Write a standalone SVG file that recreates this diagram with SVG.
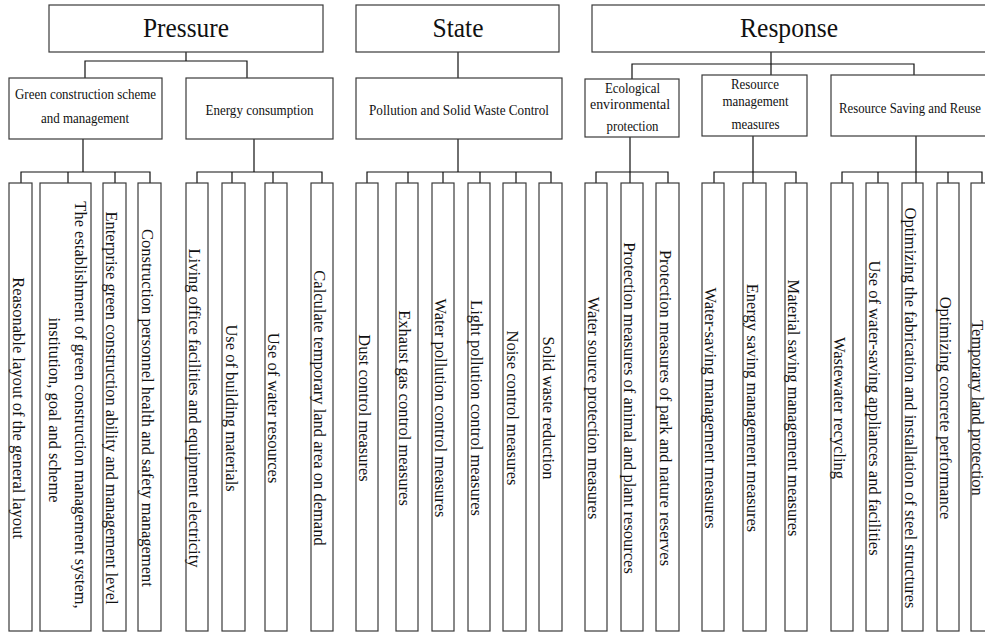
<svg xmlns="http://www.w3.org/2000/svg" width="985" height="633" viewBox="0 0 985 633">
<style>
rect{fill:#fff;stroke:#3a3a3a;stroke-width:1.2}
.c path{fill:none;stroke:#111;stroke-width:1.2}
text{font-family:"Liberation Serif","Times New Roman",serif;fill:#111}
.h{font-size:28px;text-anchor:middle}
.m{font-size:14.5px;text-anchor:middle}
.l{font-size:16.5px;text-anchor:middle}
</style>
<rect x="0" y="0" width="985" height="633" style="stroke:none"/>
<g class="c">
<path d="M186,52V61M85,78V61H247V78"/>
<path d="M83,139V172M21,183V172H150V183M68,172V183M115,172V183"/>
<path d="M254,139V172M197,183V172H322V183M232,172V183M273,172V183"/>
<path d="M458,52V78M458,139V172M367,183V172H551V183M408,172V183M443,172V183M480,172V183M516,172V183"/>
<path d="M771,52V75M632,79V64H914V75"/>
<path d="M630,137V183M596,183V172H668V183"/>
<path d="M753,136V183M714,183V172H796V183"/>
<path d="M916,136V183M842,183V172H982V183M878,172V183M948,172V183"/>
</g>
<g id="pressure"><rect x="49" y="5" width="274" height="47"/><text class="h" x="186" y="37" textLength="86" lengthAdjust="spacingAndGlyphs">Pressure</text></g>
<g id="state"><rect x="356" y="5" width="203" height="47"/><text class="h" x="458" y="37" textLength="51" lengthAdjust="spacingAndGlyphs">State</text></g>
<g id="response"><rect x="592" y="5" width="400" height="47"/><text class="h" x="789" y="37" textLength="98" lengthAdjust="spacingAndGlyphs">Response</text></g>

<g id="green"><rect x="9" y="78" width="153" height="61"/><text class="m" x="85.5" y="99" textLength="141" lengthAdjust="spacingAndGlyphs">Green construction scheme</text><text class="m" x="85" y="123" textLength="88" lengthAdjust="spacingAndGlyphs">and management</text></g>
<g id="energy"><rect x="186" y="78" width="147" height="61"/><text class="m" x="259.5" y="115" textLength="108" lengthAdjust="spacingAndGlyphs">Energy consumption</text></g>
<g id="pollution"><rect x="356" y="78" width="206" height="61"/><text class="m" x="459" y="115" textLength="180" lengthAdjust="spacingAndGlyphs">Pollution and Solid Waste Control</text></g>
<g id="eco"><rect x="585" y="79" width="94" height="58"/><text class="m" x="632.5" y="93" textLength="55" lengthAdjust="spacingAndGlyphs">Ecological</text><text class="m" x="630" y="109" textLength="80" lengthAdjust="spacingAndGlyphs">environmental</text><text class="m" x="632.5" y="131" textLength="52" lengthAdjust="spacingAndGlyphs">protection</text></g>
<g id="resmgmt"><rect x="702" y="75" width="105" height="61"/><text class="m" x="755" y="89" textLength="48" lengthAdjust="spacingAndGlyphs">Resource</text><text class="m" x="755.5" y="106" textLength="66" lengthAdjust="spacingAndGlyphs">management</text><text class="m" x="755.5" y="129" textLength="48" lengthAdjust="spacingAndGlyphs">measures</text></g>
<g id="ressave"><rect x="831" y="75" width="166" height="61"/><text class="m" x="910" y="113" textLength="142" lengthAdjust="spacingAndGlyphs">Resource Saving and Reuse</text></g>

<g id="l1"><rect x="9" y="183" width="23" height="448"/><text class="l" transform="translate(20.5,408) rotate(90)" y="8">Reasonable layout of the general layout</text></g>
<g id="l2"><rect x="40" y="183" width="51" height="448"/><text class="l" transform="translate(65.5,408) rotate(90)"><tspan x="-3" y="-9.5">The establishment of green construction management system,</tspan><tspan x="2" y="17">institution, goal and scheme</tspan></text></g>
<g id="l3"><rect x="103" y="183" width="23" height="448"/><text class="l" transform="translate(114.5,408) rotate(90)" y="8.5">Enterprise green construction ability and management level</text></g>
<g id="l4"><rect x="138" y="183" width="23" height="448"/><text class="l" transform="translate(149.5,408) rotate(90)" y="8">Construction personnel health and safety management</text></g>
<g id="l5"><rect x="186" y="183" width="22" height="448"/><text class="l" transform="translate(197,408) rotate(90)" y="8">Living office facilities and equipment electricity</text></g>
<g id="l6"><rect x="222" y="183" width="23" height="448"/><text class="l" transform="translate(233.5,408) rotate(90)" y="8">Use of building materials</text></g>
<g id="l7"><rect x="265" y="183" width="22" height="448"/><text class="l" transform="translate(276,408) rotate(90)" y="8">Use of water resources</text></g>
<g id="l8"><rect x="311" y="183" width="22" height="448"/><text class="l" transform="translate(322,408) rotate(90)" y="8">Calculate temporary land area on demand</text></g>
<g id="l9"><rect x="356" y="183" width="22" height="448"/><text class="l" transform="translate(367,408) rotate(90)" y="8">Dust control measures</text></g>
<g id="l10"><rect x="396" y="183" width="22" height="448"/><text class="l" transform="translate(407,408) rotate(90)" y="8">Exhaust gas control measures</text></g>
<g id="l11"><rect x="432" y="183" width="22" height="448"/><text class="l" transform="translate(443,408) rotate(90)" y="8">Water pollution control measures</text></g>
<g id="l12"><rect x="468" y="183" width="22" height="448"/><text class="l" transform="translate(479,408) rotate(90)" y="8">Light pollution control measures</text></g>
<g id="l13"><rect x="503" y="183" width="23" height="448"/><text class="l" transform="translate(514.5,408) rotate(90)" y="8">Noise control measures</text></g>
<g id="l14"><rect x="539" y="183" width="23" height="448"/><text class="l" transform="translate(550.5,408) rotate(90)" y="8">Solid waste reduction</text></g>
<g id="l15"><rect x="585" y="183" width="22" height="448"/><text class="l" transform="translate(596,408) rotate(90)" y="8">Water source protection measures</text></g>
<g id="l16"><rect x="621" y="183" width="22" height="448"/><text class="l" transform="translate(632,408) rotate(90)" y="8">Protection measures of animal and plant resources</text></g>
<g id="l17"><rect x="656" y="183" width="23" height="448"/><text class="l" transform="translate(667.5,408) rotate(90)" y="8">Protection measures of park and nature reserves</text></g>
<g id="l18"><rect x="702" y="183" width="22" height="448"/><text class="l" transform="translate(713,408) rotate(90)" y="8">Water-saving management measures</text></g>
<g id="l19"><rect x="743" y="183" width="23" height="448"/><text class="l" transform="translate(754.5,408) rotate(90)" y="8">Energy saving management measures</text></g>
<g id="l20"><rect x="785" y="183" width="22" height="448"/><text class="l" transform="translate(796,408) rotate(90)" y="8">Material saving management measures</text></g>
<g id="l21"><rect x="831" y="183" width="22" height="448"/><text class="l" transform="translate(842,408) rotate(90)" y="8">Wastewater recycling</text></g>
<g id="l22"><rect x="866" y="183" width="22" height="448"/><text class="l" transform="translate(877,408) rotate(90)" y="8">Use of water-saving appliances and facilities</text></g>
<g id="l23"><rect x="902" y="183" width="21" height="448"/><text class="l" transform="translate(912.5,408) rotate(90)" y="8">Optimizing the fabrication and installation of steel structures</text></g>
<g id="l24"><rect x="937" y="183" width="22" height="448"/><text class="l" transform="translate(948,408) rotate(90)" y="8">Optimizing concrete performance</text></g>
<g id="l25"><rect x="971" y="183" width="22" height="448"/><text class="l" transform="translate(980.5,408) rotate(90)" y="8.5">Temporary land protection</text></g>
</svg>
